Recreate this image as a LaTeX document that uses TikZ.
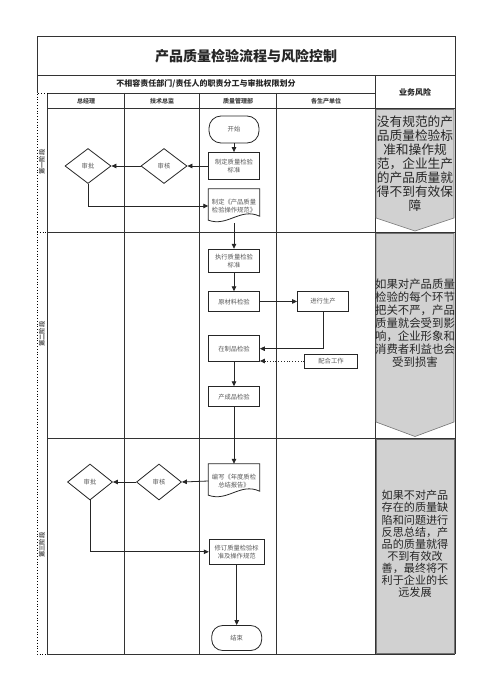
\documentclass[tikz,border=0pt]{standalone}
\usepackage{fontspec}
\setmainfont{Noto Sans CJK SC}
\usetikzlibrary{shapes.geometric,arrows.meta,calc}
\begin{document}
\begin{tikzpicture}[x=1pt,y=-1pt,
  frame/.style={draw=black!80,line width=0.8pt},
  nodeline/.style={draw=black!85,line width=0.8pt},
  nodebox/.style={nodeline,minimum width=51pt,minimum height=20pt,inner sep=1pt,align=center,font=\fontsize{6.3}{7.8}\selectfont,text=black!65},
  term/.style={nodebox,rounded corners=12pt,minimum width=50pt,minimum height=27pt},
  dia/.style={diamond,nodeline,minimum width=46pt,minimum height=35pt,inner sep=0pt,font=\fontsize{6.3}{7.8}\selectfont,text=black!65},
  docnode/.style={minimum width=51pt,minimum height=34pt,inner sep=1pt,align=center,font=\fontsize{6.3}{7.8}\selectfont,text=black!65},
  flow/.style={draw=black!85,line width=0.8pt,-{Triangle[length=5pt,width=4.5pt]}},
  risk/.style={fill=black!18,draw=black!55,line width=0.6pt},
  risktext/.style={align=center,text=black!85,inner sep=0pt},
  hdr/.style={font=\bfseries\fontsize{8}{9}\selectfont,text=black!85},
  colhdr/.style={font=\bfseries\fontsize{6}{7}\selectfont,text=black!75},
  phase/.style={rotate=90,font=\bfseries\fontsize{6.3}{7}\selectfont,text=black!60}
]
\useasboundingbox (0,0) rectangle (503,690);
\fill[white] (0,0) rectangle (503,690);

% ---- frame ----
\draw[frame] (37,36) rectangle (455,75);
\draw[frame] (37,75) -- (37,93);
\draw[frame] (47.3,93) -- (375,93);
\draw[frame] (47.3,93) -- (47.3,654);
\draw[frame] (375,75) -- (375,654);
\draw[frame] (455,75) -- (455,654);
\draw[frame] (47.3,108) -- (455,108);
\foreach \cx in {124.3,199.3,276.7} \draw[frame] (\cx,93) -- (\cx,654);
\draw[frame] (47.3,232) -- (455,232);
\draw[frame] (47.3,438) -- (455,438);
\draw[frame] (47.3,654) -- (455,654);
\draw[dotted,line width=0.8pt] (47.3,93) -- (37,93) -- (37,654) -- (47.3,654);
\draw[dotted,line width=0.8pt] (37,232) -- (47.3,232);

% ---- headers ----
\node[font=\bfseries\fontsize{14}{16}\selectfont,text=black!85] (title) at (246,56) {产品质量检验流程与风险控制};
\node[hdr] (hd) at (206,84) {不相容责任部门/责任人的职责分工与审批权限划分};
\node[hdr] (riskhd) at (415,92) {业务风险};
\node[colhdr] (c1) at (86,101) {总经理};
\node[colhdr] (c2) at (162,101) {技术总监};
\node[colhdr] (c3) at (238,101) {质量管理部};
\node[colhdr] (c4) at (326,101) {各生产单位};
\node[phase] (p1) at (42,162) {第一阶段};
\node[phase] (p2) at (42,334) {第二阶段};
\node[phase] (p3) at (42,545) {第三阶段};

% ---- phase 1 ----
\node[term] (start) at (234,129.5) {开始};
\node[nodebox,minimum height=27pt] (std) at (234,166) {制定质量检验\\标准};
\node[dia] (rev1) at (164,166) {审核};
\node[dia] (app1) at (88,166) {审批};
\node[docnode] (doc1) at (234,206) {制定《产品质量\\检验操作规范》};
\draw[nodeline] (doc1.north west) -- (doc1.north east) -- ($(doc1.south east)+(0,-7)$)
  .. controls ($(doc1.south)+(6,-16)$) and ($(doc1.south)+(-6,4)$) .. ($(doc1.south west)+(0,-3)$) -- cycle;

% ---- phase 2 ----
\node[nodebox,minimum height=23pt] (exe) at (234,260.7) {执行质量检验\\标准};
\node[nodebox] (raw) at (234,301.7) {原材料检验};
\node[nodebox] (prod) at (323,301.3) {进行生产};
\node[nodebox,minimum height=26pt] (wip) at (234,348.7) {在制品检验};
\node[nodebox,minimum width=53pt,minimum height=14pt] (coop) at (331,361) {配合工作};
\node[nodebox] (fin) at (234,396.7) {产成品检验};

% ---- phase 3 ----
\node[docnode] (rep) at (234,481) {编写《年度质检\\总结报告》};
\draw[nodeline] (rep.north west) -- (rep.north east) -- ($(rep.south east)+(0,-7)$)
  .. controls ($(rep.south)+(6,-16)$) and ($(rep.south)+(-6,4)$) .. ($(rep.south west)+(0,-3)$) -- cycle;
\node[dia,minimum width=45pt,minimum height=36pt] (rev2) at (159,482) {审核};
\node[dia,minimum width=45pt,minimum height=36pt] (app2) at (90,482) {审批};
\node[nodebox,minimum width=55pt,minimum height=25pt] (mod) at (236.7,551.8) {修订质量检验标\\准及操作规范};
\node[term,minimum height=25pt,rounded corners=11pt] (finish) at (236.7,638) {结束};

% ---- connectors ----
\draw[flow] (start) -- (std);
\draw[flow] (std) -- (rev1);
\draw[flow] (rev1) -- (app1);
\draw[flow] (app1.south) |- (doc1.west);
\draw[flow] (doc1.south) -- (exe.north);
\draw[flow] (exe) -- (raw);
\draw[flow] (raw) -- (prod);
\draw[flow] (prod.south) |- (wip.east);
\draw[flow,dotted] (coop.west) -- (coop.west -| wip.east);
\draw[flow] (wip) -- (fin);
\draw[flow] (fin.south) -- (rep.north);
\draw[flow] (rep.west) -- (rev2.east);
\draw[flow] (rev2.west) -- (app2.east);
\draw[flow] (app2.south) |- (mod.west);
\draw[flow] (mod.south) -- (finish.north);

% ---- risk column ----
\draw[risk] (376,109.5) -- (454,109.5) -- (454,218) -- (415,231) -- (376,218) -- cycle;
\node[risktext,font=\fontsize{12.7}{14}\selectfont] (r1) at (415,164) {没有规范的产\\品质量检验标\\准和操作规\\范，企业生产\\的产品质量就\\得不到有效保\\障};
\draw[risk] (376,233.5) -- (454,233.5) -- (454,422) -- (415,436.5) -- (376,422) -- cycle;
\node[risktext,font=\fontsize{11.4}{13}\selectfont] (r2) at (415,323) {如果对产品质量\\检验的每个环节\\把关不严，产品\\质量就会受到影\\响，企业形象和\\消费者利益也会\\受到损害};
\draw[risk] (376,439.5) rectangle (454,653);
\node[risktext,font=\fontsize{11.1}{12.1}\selectfont] (r3) at (415,544) {如果不对产品\\存在的质量缺\\陷和问题进行\\反思总结，产\\品的质量就得\\不到有效改\\善，最终将不\\利于企业的长\\远发展};
\end{tikzpicture}
\end{document}
